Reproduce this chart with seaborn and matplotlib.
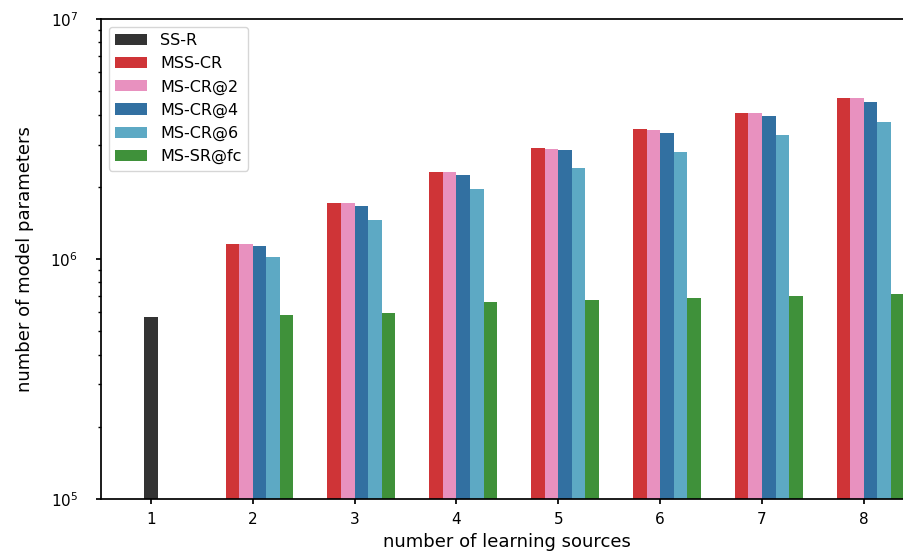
import numpy as np
import pandas as pd
import matplotlib
matplotlib.use("Agg")
import matplotlib.pyplot as plt
import seaborn as sns

# bar heights (log scale)
sources = [2, 3, 4, 5, 6, 7, 8]
ssr_source = [1]
ssr_params = [5.75e5]
mss_cr = [1.15e6, 1.72e6, 2.30e6, 2.89e6, 3.47e6, 4.05e6, 4.68e6]
ms_cr2 = [1.15e6, 1.72e6, 2.30e6, 2.87e6, 3.44e6, 4.05e6, 4.68e6]
ms_cr4 = [1.13e6, 1.67e6, 2.23e6, 2.84e6, 3.34e6, 3.94e6, 4.50e6]
ms_cr6 = [1.015e6, 1.46e6, 1.95e6, 2.39e6, 2.78e6, 3.28e6, 3.72e6]
ms_srfc = [5.87e5, 5.98e5, 6.65e5, 6.77e5, 6.91e5, 7.04e5, 7.18e5]

methods = ["SS-R", "MSS-CR", "MS-CR@2", "MS-CR@4", "MS-CR@6", "MS-SR@fc"]
colors = ["#333333", "#cf3437", "#e891bf", "#3270a1", "#5da9c4", "#3f913a"]
palette = dict(zip(methods, colors))

df_ssr = pd.DataFrame({"sources": ssr_source, "params": ssr_params, "method": "SS-R"})
parts = []
for name, vals in zip(methods[1:], [mss_cr, ms_cr2, ms_cr4, ms_cr6, ms_srfc]):
    parts.append(pd.DataFrame({"sources": sources, "params": vals, "method": name}))
df = pd.concat(parts, ignore_index=True)

plt.rcParams["font.family"] = "DejaVu Sans"
plt.rcParams["axes.linewidth"] = 1.25
plt.rcParams["xtick.major.width"] = 1.25
plt.rcParams["ytick.major.width"] = 1.25
plt.rcParams["ytick.minor.width"] = 1.0

fig = plt.figure(figsize=(9.04, 5.51), dpi=100)
ax = fig.add_axes([0.1117, 0.0944, 0.899, 0.871])

# single-source baseline sits centred on its tick
sns.barplot(data=df_ssr, x="sources", y="params", hue="method", palette=palette,
            native_scale=True, width=0.8 / 6, saturation=1, linewidth=0,
            legend=False, ax=ax)
# multi-source models, dodged in six slots (first slot kept for SS-R)
sns.barplot(data=df, x="sources", y="params", hue="method", hue_order=methods,
            palette=palette, native_scale=True, width=0.8, saturation=1,
            linewidth=0, ax=ax)

ax.set_yscale("log")
ax.set_ylim(1e5, 1e7)
ax.set_xlim(0.51, 8.49)
ax.set_xticks(range(1, 9))
ax.set_xticklabels([str(i) for i in range(1, 9)])
ax.tick_params(labelsize=11)
ax.tick_params(axis="x", pad=6)
ax.tick_params(axis="y", which="major", pad=13)
ax.set_xlabel("number of learning sources", fontsize=13, labelpad=4)
ax.set_ylabel("number of model parameters", fontsize=13, labelpad=12)
ax.spines["right"].set_visible(False)

sns.move_legend(ax, "upper left", title=None, frameon=True, fontsize=11.5)

fig.savefig("out.png", dpi=100)
